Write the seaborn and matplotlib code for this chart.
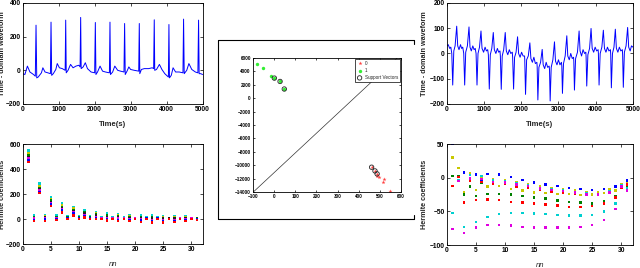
import numpy as np
import pandas as pd
import matplotlib
matplotlib.use("Agg")
import matplotlib.pyplot as plt
from matplotlib.lines import Line2D
import seaborn as sns

# ---- data ----
# top left ECG (time, value)
t_left = [0, 60, 130, 200, 300, 350, 370, 390, 430, 520, 560, 620, 700, 770, 787, 805, 850, 920, 960,
          1020, 1100, 1180, 1195, 1210, 1260, 1330, 1400, 1480, 1560, 1595, 1611, 1625, 1680, 1740,
          1800, 1900, 2000, 2019, 2035, 2080, 2150, 2220, 2300, 2410, 2426, 2440, 2500, 2560, 2640,
          2720, 2815, 2833, 2850, 2900, 2950, 3000, 3100, 3225, 3241, 3255, 3300, 3380, 3500, 3600,
          3640, 3657, 3670, 3720, 3800, 3870, 3950, 4050, 4065, 4080, 4130, 4180, 4250, 4350, 4455,
          4472, 4490, 4560, 4620, 4700, 4800, 4870, 4889, 4905, 4950, 5000]
v_left = [-20, -25, 25, -10, -25, -35, 268, -45, -40, -15, 15, -10, -15, -20, 286, -30, -20, 5, 40,
          15, 10, 0, 298, -15, 0, 35, 15, 25, 30, 20, 314, 10, 20, 45,
          10, -10, -15, 284, -25, -10, 25, -5, -10, -15, 286, -25, -10, 25, 0,
          -5, -10, 278, -25, -5, 20, 5, 0, -5, 278, -20, 5, 10, 10, 15,
          10, 300, 0, 5, 35, 5, -20, -40, 272, -45, -30, 15, -10, -10, -15,
          304, -20, 0, 40, 5, -10, -15, 298, -20, -20, -25]

# top right ECG (time, value)
t_right = [0, 40, 80, 110,
           136, 161, 190, 225, 268, 295, 330, 370, 400, 430,
           457, 482, 510, 555, 598, 625, 660, 700, 735, 765,
           788, 813, 840, 880, 920, 948, 990, 1030, 1065, 1100,
           1118, 1143, 1170, 1210, 1250, 1278, 1320, 1360, 1395, 1430,
           1440, 1464, 1490, 1530, 1571, 1600, 1640, 1680, 1720, 1760,
           1770, 1795, 1822, 1862, 1902, 1930, 1970, 2010, 2050, 2090,
           2095, 2116, 2145, 2190, 2232, 2260, 2300, 2340, 2380, 2420,
           2428, 2447, 2475, 2520, 2563, 2590, 2630, 2670, 2710, 2750,
           2760, 2777, 2805, 2850, 2893, 2920, 2960, 3000, 3040, 3080,
           3090, 3107, 3135, 3180, 3224, 3250, 3290, 3330, 3370, 3405,
           3412, 3429, 3460, 3510, 3554, 3580, 3620, 3660, 3700, 3735,
           3742, 3759, 3790, 3835, 3875, 3905, 3945, 3985, 4025, 4065,
           4072, 4090, 4120, 4165, 4205, 4235, 4275, 4315, 4355, 4395,
           4403, 4420, 4450, 4490, 4527, 4555, 4595, 4635, 4675, 4715,
           4723, 4741, 4770, 4815, 4857, 4885, 4925, 4960, 5000]
v_right = [30, 35, 20, 25,
           0, -125, 10, 30, 108, 30, 15, 35, 20, 25,
           0, -125, 5, 30, 105, 25, 10, 30, 15, 20,
           0, -125, 0, 25, 89, 20, 5, 25, 10, 15,
           -5, -141, -5, 20, 83, 15, 0, 20, 5, 10,
           -10, -142, -10, 15, 83, 10, -5, 15, 0, 5,
           -15, -141, -15, 5, 66, 0, -15, 5, -10, -10,
           -25, -162, -25, -10, 42, -20, -35, -15, -40, -35,
           -50, -184, -55, -35, 16, -45, -60, -35, -55, -50,
           -65, -188, -55, -25, 46, -30, -45, -25, -45, -35,
           -50, -158, -40, -10, 70, -10, -25, 0, -20, -15,
           -30, -145, -20, 5, 89, 10, -10, 15, 0, 5,
           -15, -129, -5, 20, 99, 20, 5, 25, 10, 15,
           0, -125, 0, 25, 92, 20, 5, 25, 10, 15,
           -5, -136, 0, 25, 96, 20, 5, 25, 10, 15,
           -5, -134, 5, 30, 103, 25, 10, 30, 25]

nn = list(range(1, 32))

# bottom left Hermite coefficients
hl_cyan = [550, 30, 285, 35, 180, 30, 125, 25, 95, 25, 70, 25, 55, 15, 45, 15, 40, 15, 35, 10, 30, 15, 30, 15, 25, 10, 25, 10, 25, 10, 10]
hl_yellow = [525, 20, 265, 25, 160, 20, 110, 20, 85, 20, 60, 20, 45, 12, 35, 12, 30, 12, 25, 8, 20, 12, 20, 12, 18, 8, 18, 8, 18, 8, 8]
hl_green = [510, 15, 250, 20, 150, 15, 100, 15, 75, 15, 55, 15, 40, 10, 30, 10, 25, 10, 20, 8, 15, 10, 15, 10, 12, 6, 12, 7, 12, 7, 6]
hl_black = [495, 10, 240, 15, 140, 10, 90, 12, 65, 12, 45, 12, 30, 8, 20, 8, 15, 8, 10, 6, 8, 8, 5, 8, 5, 5, 5, 6, 5, 6, 4]
hl_magenta = [485, 5, 230, 10, 130, 5, 80, 10, 55, 10, 35, 10, 20, 6, 10, 6, 5, 6, 0, 5, 0, 6, -5, 6, -5, 4, -5, 5, -3, 5, 2]
hl_blue = [475, -10, 220, 0, 120, 0, 70, 5, 45, 5, 25, 5, 10, 4, 0, 4, -5, 4, -10, 4, -10, 5, -15, 5, -15, 3, -12, 4, -10, 4, 0]
hl_red = [460, -15, 210, -15, 105, -5, 55, 0, 30, 0, 15, 0, 0, 2, -10, 2, -15, 2, -15, 3, -20, 4, -25, 4, -25, 2, -20, 3, -15, 3, -5]

# bottom right Hermite coefficients
hr_blue = [50, 2, 8, 0, 5, -3, 6, -5, 5, -6, 1, -9, -3, -11, -7, -14, -10, -17, -12, -19, -15, -21, -17, -23, -18, -23, -17, -20, -13, -12, -4]
hr_yellow = [30, 15, -22, 7, -18, 1, -13, -2, -12, -3, -17, -6, -19, -9, -22, -12, -23, -15, -24, -17, -24, -19, -26, -21, -25, -21, -23, -17, -19, -10, -8]
hr_green = [3, 3, -25, -13, -27, -8, -24, -7, -24, -8, -25, -11, -27, -13, -29, -16, -31, -19, -34, -21, -36, -23, -37, -25, -38, -25, -35, -22, -27, -14, -12]
hr_red = [-12, 1, -37, -4, -33, -6, -32, -9, -33, -9, -36, -13, -37, -15, -38, -18, -40, -21, -41, -22, -43, -24, -43, -26, -42, -26, -38, -23, -29, -15, -10]
hr_cyan = [-52, -3, -73, 4, -66, 3, -58, -4, -54, -5, -52, -8, -52, -11, -53, -15, -54, -17, -55, -19, -56, -21, -56, -23, -55, -24, -50, -20, -38, -11, -15]
hr_magenta = [-76, -5, -82, -1, -74, -2, -70, -6, -70, -7, -71, -10, -73, -12, -74, -16, -74, -18, -74, -20, -74, -22, -73, -25, -70, -25, -63, -22, -46, -13, -19]

# middle SVM scatter
cls0_x = [461, 477, 487, 485, 495, 518, 515, 548]
cls0_y = [-10300, -10855, -11297, -11592, -11788, -12083, -12526, -13902]
cls1_x = [-80, -54, -15, 1, 28, 48]
cls1_y = [5100, 4450, 3250, 3000, 2500, 1370]
sv_x = [1, 28, 48, 461, 477, 487]
sv_y = [3000, 2500, 1370, -10300, -10855, -11297]
sep_x = [-95, 582]
sep_y = [-13900, 6000]

sns.set_style("ticks")
plt.rcParams['font.family'] = ['Liberation Sans Narrow', 'Liberation Sans', 'DejaVu Sans']
plt.rcParams['axes.linewidth'] = 0.6

fig = plt.figure(figsize=(6.4, 2.68), dpi=100)


def matlab_axes(ax, fs=4.8, length=2.0):
    ax.tick_params(direction='in', top=True, right=True, length=length, width=0.5,
                   labelsize=fs, pad=1.5, colors='black')
    for lab in ax.get_xticklabels() + ax.get_yticklabels():
        lab.set_fontweight('bold')
    for s in ax.spines.values():
        s.set_color('black')


lab_kw = dict(fontsize=5.5, fontweight='bold')
ylab_kw = dict(fontsize=5.2, fontweight='bold')

# top left
ax1 = fig.add_axes([0.0355, 0.612, 0.281, 0.377])
sns.lineplot(data=pd.DataFrame({'t': t_left, 'v': v_left}), x='t', y='v', ax=ax1,
             color='#0000ff', lw=0.7, sort=False, estimator=None)
ax1.set_xlim(0, 5000)
ax1.set_ylim(-200, 400)
ax1.set_xticks(range(0, 5001, 1000))
ax1.set_yticks(range(-200, 401, 200))
ax1.set_xlabel("Time(s)", **lab_kw)
ax1.set_ylabel("Time - domain waveform", **ylab_kw)
ax1.yaxis.set_label_coords(-0.093, 0.5)
ax1.xaxis.set_label_coords(0.5, -0.17)
matlab_axes(ax1)

# top right
ax2 = fig.add_axes([0.698, 0.612, 0.291, 0.377])
sns.lineplot(data=pd.DataFrame({'t': t_right, 'v': v_right}), x='t', y='v', ax=ax2,
             color='#0000ff', lw=0.7, sort=False, estimator=None)
ax2.set_xlim(0, 5000)
ax2.set_ylim(-200, 200)
ax2.set_xticks(range(0, 5001, 1000))
ax2.set_yticks(range(-200, 201, 100))
ax2.set_xlabel("Time(s)", **lab_kw)
ax2.set_ylabel("Time - domain waveform", **ylab_kw)
ax2.yaxis.set_label_coords(-0.1, 0.5)
ax2.xaxis.set_label_coords(0.5, -0.17)
matlab_axes(ax2)

# bottom left
left_series = {'cyan': hl_cyan, 'yellow': hl_yellow, 'green': hl_green, 'black': hl_black,
               'magenta': hl_magenta, 'blue': hl_blue, 'red': hl_red}
left_pal = {'cyan': '#00d0d0', 'yellow': '#c8c800', 'green': '#008000', 'black': '#202020',
            'magenta': '#e000e0', 'blue': '#0000ff', 'red': '#ff0000'}
df_l = pd.concat([pd.DataFrame({'n': nn, 'coef': v, 'series': k}) for k, v in left_series.items()])
ax3 = fig.add_axes([0.0355, 0.0885, 0.281, 0.373])
sns.scatterplot(data=df_l, x='n', y='coef', hue='series', palette=left_pal, marker='s',
                s=3, linewidth=0, legend=False, ax=ax3)
ax3.set_xlim(0, 32)
ax3.set_ylim(-200, 600)
ax3.set_xticks(range(0, 31, 5))
ax3.set_yticks(range(-200, 601, 200))
ax3.set_xlabel("nn", fontsize=5.5, style='italic')
ax3.set_ylabel("Hermite coefficients", **ylab_kw)
ax3.yaxis.set_label_coords(-0.093, 0.5)
ax3.xaxis.set_label_coords(0.5, -0.17)
matlab_axes(ax3)

# bottom right
right_series = {'blue': hr_blue, 'yellow': hr_yellow, 'green': hr_green, 'red': hr_red,
                'cyan': hr_cyan, 'magenta': hr_magenta}
df_r = pd.concat([pd.DataFrame({'n': nn, 'coef': v, 'series': k}) for k, v in right_series.items()])
ax4 = fig.add_axes([0.698, 0.0858, 0.291, 0.376])
sns.scatterplot(data=df_r, x='n', y='coef', hue='series', palette=left_pal, marker='s',
                s=3, linewidth=0, legend=False, ax=ax4)
ax4.set_xlim(0, 32)
ax4.set_ylim(-100, 50)
ax4.set_xticks(range(0, 31, 5))
ax4.set_yticks(range(-100, 51, 50))
ax4.set_xlabel("nn", fontsize=5.5, style='italic')
ax4.set_ylabel("Hermite coefficients", **ylab_kw)
ax4.yaxis.set_label_coords(-0.1, 0.5)
ax4.xaxis.set_label_coords(0.5, -0.17)
matlab_axes(ax4)

# middle SVM panel
axm = fig.add_axes([253 / 640, 1 - 192 / 268, 148 / 640, 134 / 268])
sns.lineplot(x=sep_x, y=sep_y, ax=axm, color='#333333', lw=0.5)
sns.scatterplot(x=cls0_x, y=cls0_y, ax=axm, color='#ff4040', marker='*', s=9,
                linewidth=0, label='0')
sns.scatterplot(x=cls1_x, y=cls1_y, ax=axm, color='#33ee33', marker='o', s=6,
                linewidth=0, label='1')
sns.scatterplot(x=sv_x, y=sv_y, ax=axm, facecolor='none', edgecolor='#222222', marker='o',
                s=10, linewidth=0.6, label='Support Vectors')
axm.set_xlim(-100, 600)
axm.set_ylim(-14000, 6000)
axm.set_xticks(range(-100, 601, 100))
axm.set_yticks(range(-14000, 6001, 2000))
axm.legend(loc='upper right', fontsize=3.3, frameon=True, fancybox=False, edgecolor='black',
           borderaxespad=0.15, handlelength=1.2, handletextpad=0.6, borderpad=0.4,
           labelspacing=0.5, framealpha=1)
axm.get_legend().get_frame().set_linewidth(0.5)
matlab_axes(axm, fs=3.3, length=1.5)

# frame around the middle panel
lk = dict(color='black', lw=0.8, transform=fig.transFigure)
L, R, T, B = 218 / 640, 414 / 640, 1 - 40 / 268, 1 - 219 / 268
fig.add_artist(Line2D([L, R], [T, T], **lk))
fig.add_artist(Line2D([L, R], [B, B], **lk))
fig.add_artist(Line2D([L, L], [B, T], **lk))
fig.add_artist(Line2D([R, R], [T, T - 4 / 268], **lk))
fig.add_artist(Line2D([R, R], [B, B + 4 / 268], **lk))

fig.savefig("out.png", dpi=100)
